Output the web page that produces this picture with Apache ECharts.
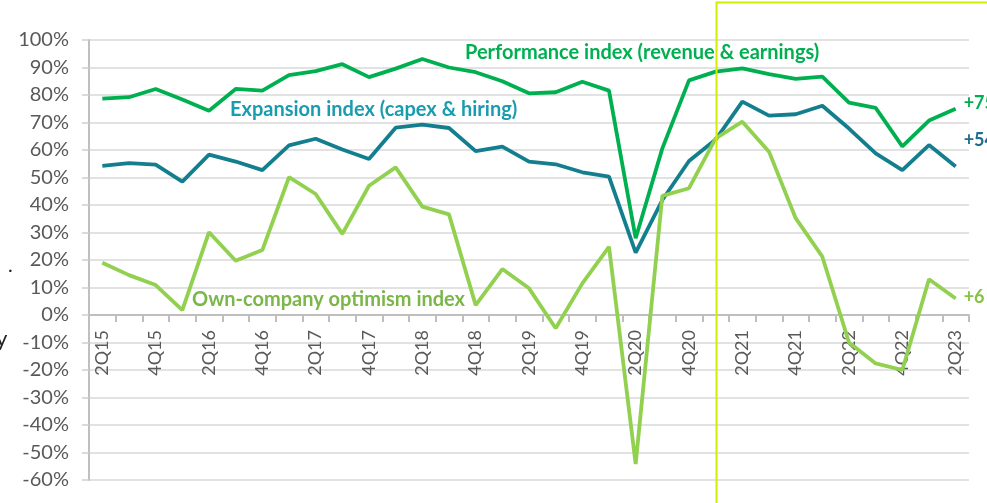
<!DOCTYPE html>
<html>
<head>
<meta charset="utf-8">
<script src="https://cdn.jsdelivr.net/npm/echarts@6/dist/echarts.min.js"></script>
<style>
  html, body { margin: 0; padding: 0; background: #fff; }
  #chart { width: 987px; height: 503px; }
</style>
</head>
<body>
<div id="chart"></div>
<script>
// quarters 2Q15 .. 2Q23
const quarters = [
  "2Q15", "3Q15", "4Q15", "1Q16", "2Q16", "3Q16", "4Q16", "1Q17", "2Q17", "3Q17", "4Q17",
  "1Q18", "2Q18", "3Q18", "4Q18", "1Q19", "2Q19", "3Q19", "4Q19", "1Q20", "2Q20", "3Q20",
  "4Q20", "1Q21", "2Q21", "3Q21", "4Q21", "1Q22", "2Q22", "3Q22", "4Q22", "1Q23", "2Q23"
];
const performance = [
  78.7, 79.2, 82.2, 78.4, 74.3, 82.2, 81.6, 87.2, 88.7, 91.2, 86.5,
  89.6, 93.1, 90.0, 88.3, 85.0, 80.6, 81.0, 84.8, 81.6, 27.9, 60.6,
  85.3, 88.5, 89.7, 87.6, 85.9, 86.7, 77.2, 75.3, 61.3, 70.7, 75
];
const expansion = [
  54.2, 55.2, 54.7, 48.5, 58.3, 55.8, 52.7, 61.7, 64.1, 60.2, 56.7,
  68.1, 69.2, 68.0, 59.6, 61.2, 55.8, 54.8, 51.9, 50.3, 22.7, 41.8,
  56.0, 63.8, 77.6, 72.5, 73.0, 76.1, 67.8, 58.8, 52.7, 61.8, 54
];
const optimism = [
  19.0, 14.5, 10.9, 1.8, 30.1, 19.7, 23.6, 50.1, 44.0, 29.5, 47.0,
  53.7, 39.4, 36.6, 3.6, 16.7, 9.7, -4.8, 11.5, 24.8, -54.2, 43.3,
  46.1, 64.2, 70.3, 59.4, 35.2, 21.2, -10.0, -17.6, -20.0, 13.0, 6
];
const yTicks = { min: -60, max: 100, step: 10 };

const font = "Lato, 'Open Sans', sans-serif";
const gridTop = 40, gridBottom = 23, chartH = 503;
// x axis sits on the 0% line: shift it up from the grid bottom
const plotH = chartH - gridTop - gridBottom;
const zeroShift = plotH * (0 - yTicks.min) / (yTicks.max - yTicks.min);

const chart = echarts.init(document.getElementById("chart"), null, { renderer: "canvas" });

function lineSeries(name, data, color, labelColor, offsetY) {
  return {
    name: name,
    type: "line",
    data: data,
    symbol: "none",
    lineStyle: { width: 3.8, color: color },
    itemStyle: { color: color },
    endLabel: {
      show: true,
      distance: 8,
      offset: [0, offsetY],
      formatter: function (p) { return "+" + Math.round(p.value); },
      color: labelColor,
      fontFamily: font,
      fontWeight: "bold",
      fontSize: 18
    },
    z: 3
  };
}

const option = {
  animation: false,
  backgroundColor: "#fff",
  grid: { left: 89, right: 18, top: gridTop, bottom: gridBottom, containLabel: false, outerBoundsMode: "none" },
  xAxis: {
    type: "category",
    data: quarters,
    boundaryGap: true,
    offset: -zeroShift,
    axisLine: { onZero: false, lineStyle: { color: "#bfbfbf", width: 2 } },
    axisTick: { show: true, interval: 0, length: 7, lineStyle: { color: "#bfbfbf", width: 2 } },
    axisLabel: {
      interval: 1,
      rotate: 90,
      margin: 15,
      color: "#595959",
      fontFamily: font,
      fontSize: 18
    },
    splitLine: { show: false }
  },
  yAxis: {
    type: "value",
    min: yTicks.min,
    max: yTicks.max,
    interval: yTicks.step,
    axisLine: { show: true, lineStyle: { color: "#bfbfbf", width: 2 } },
    axisTick: { show: true, length: 7, lineStyle: { color: "#d0d0d0", width: 1.5 } },
    axisLabel: {
      formatter: "{value}%",
      margin: 20,
      color: "#595959",
      fontFamily: font,
      fontSize: 20
    },
    splitLine: { lineStyle: { color: "#d9d9d9", width: 1.5 } }
  },
  series: [
    lineSeries("Performance index", performance, "#00b050", "#00b050", -6),
    lineSeries("Expansion index", expansion, "#137f8e", "#1b6e8c", -26),
    lineSeries("Own-company optimism index", optimism, "#92d050", "#86c340", -1)
  ],
  graphic: [
    {
      type: "rect",
      shape: { x: 716.5, y: 2.5, width: 400, height: 600 },
      style: { fill: "none", stroke: "#d4ec00", lineWidth: 2 },
      z: 10
    },
    {
      type: "text", left: 465, top: 43,
      style: { text: "Performance index (revenue & earnings)", fill: "#00b050",
        font: "bold 20px " + font }
    },
    {
      type: "text", left: 230, top: 100,
      style: { text: "Expansion index (capex & hiring)", fill: "#1a9cb0",
        font: "bold 20px " + font }
    },
    {
      type: "text", left: 192, top: 290,
      style: { text: "Own-company optimism index", fill: "#7ab648",
        font: "bold 20px " + font }
    },
    {
      type: "text", left: 8, top: 256,
      style: { text: ".", fill: "#222", font: "20px " + font }
    },
    {
      type: "text", left: -4, top: 328,
      style: { text: "y", fill: "#222", font: "22px " + font }
    }
  ]
};

chart.setOption(option);
</script>
</body>
</html>
